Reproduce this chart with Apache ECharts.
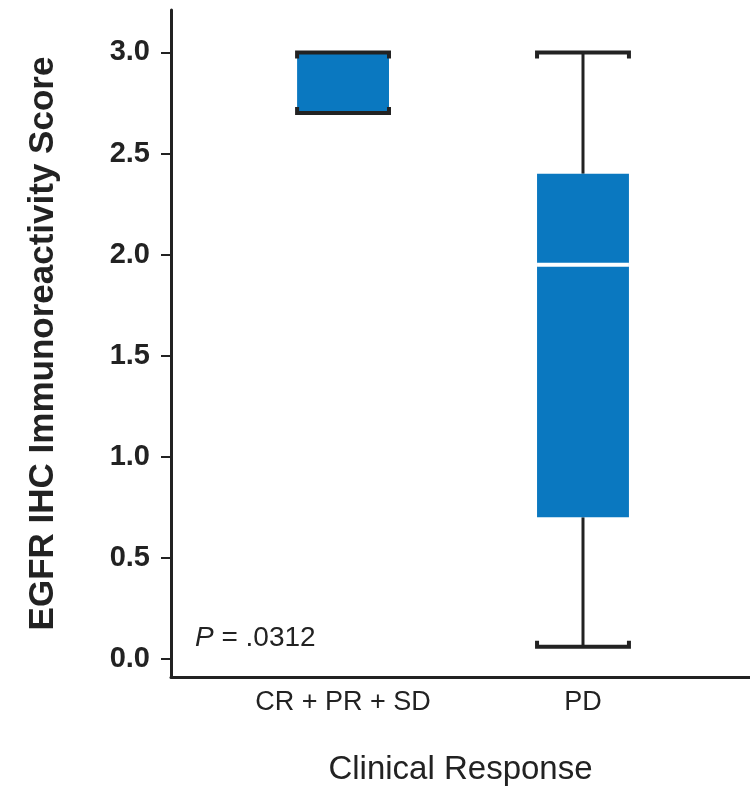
<!DOCTYPE html>
<html>
<head>
<meta charset="utf-8">
<script src="https://cdn.jsdelivr.net/npm/echarts@6/dist/echarts.min.js"></script>
<style>
html,body{margin:0;padding:0;background:#fff;}
#chart{width:750px;height:791px;}
</style>
</head>
<body>
<div id="chart"></div>
<script>
const categories = ['CR + PR + SD', 'PD'];
// [min, Q1, median, Q3, max]
const boxValues = [
  [2.7, 2.7, 3.0, 3.0, 3.0],
  [0.06, 0.7, 1.95, 2.4, 3.0]
];
const yTicks = [0, 0.5, 1.0, 1.5, 2.0, 2.5, 3.0];
const pText = '.0312';

const FONT = '"Liberation Sans", Arial, sans-serif';
const BLUE = '#0a78c0';
const INK = '#222222';
const BOX_W = 0.383;

const chart = echarts.init(document.getElementById('chart'), null, {renderer: 'canvas'});

const seriesData = boxValues.map((v, i) => [i].concat(v));

function renderItem(params, api) {
  const x = api.value(0);
  const vmin = api.value(1), q1 = api.value(2), med = api.value(3), q3 = api.value(4), vmax = api.value(5);
  const w = api.size([BOX_W, 0])[0];
  const pMin = api.coord([x, vmin]);
  const pQ1 = api.coord([x, q1]);
  const pMed = api.coord([x, med]);
  const pQ3 = api.coord([x, q3]);
  const pMax = api.coord([x, vmax]);
  const cx = pMin[0];
  const l = cx - w / 2, r = cx + w / 2;
  const children = [];
  children.push({type: 'line', shape: {x1: cx, y1: pMax[1], x2: cx, y2: pQ3[1]}, style: {stroke: INK, lineWidth: 3}});
  children.push({type: 'line', shape: {x1: cx, y1: pQ1[1], x2: cx, y2: pMin[1]}, style: {stroke: INK, lineWidth: 3}});
  children.push({type: 'rect', shape: {x: l, y: pQ3[1], width: w, height: pQ1[1] - pQ3[1]}, style: {fill: BLUE}});
  if (med < q3 && med > q1) {
    children.push({type: 'line', shape: {x1: l, y1: pMed[1], x2: r, y2: pMed[1]}, style: {stroke: '#ffffff', lineWidth: 4}});
  }
  children.push({type: 'polyline', shape: {points: [[l, pMax[1] + 6], [l, pMax[1]], [r, pMax[1]], [r, pMax[1] + 6]]}, style: {stroke: INK, lineWidth: 4, fill: null}});
  children.push({type: 'polyline', shape: {points: [[l, pMin[1] - 6], [l, pMin[1]], [r, pMin[1]], [r, pMin[1] - 6]]}, style: {stroke: INK, lineWidth: 4, fill: null}});
  return {type: 'group', children: children};
}

const option = {
  backgroundColor: '#ffffff',
  animation: false,
  grid: {left: 171, right: 0, top: 10, bottom: 113, containLabel: false},
  xAxis: {
    type: 'value',
    min: -0.717,
    max: 1.696,
    name: 'Clinical Response',
    nameLocation: 'middle',
    nameGap: 76,
    nameTextStyle: {fontFamily: FONT, fontSize: 33, color: INK},
    axisLine: {show: true, onZero: false, lineStyle: {color: INK, width: 3}},
    axisTick: {show: false},
    splitLine: {show: false},
    axisLabel: {
      customValues: [0, 1],
      formatter: v => categories[Math.round(v)],
      fontFamily: FONT,
      fontSize: 27,
      color: INK,
      margin: 12
    }
  },
  yAxis: {
    type: 'value',
    min: -0.09,
    max: 3.21,
    name: 'EGFR IHC Immunoreactivity Score',
    nameLocation: 'middle',
    nameGap: 110,
    nameTextStyle: {fontFamily: FONT, fontSize: 35, color: INK, fontWeight: 'bold'},
    axisLine: {show: true, onZero: false, lineStyle: {color: INK, width: 3}},
    axisTick: {show: true, customValues: yTicks, length: 10, lineStyle: {color: INK, width: 2}},
    splitLine: {show: false},
    axisLabel: {
      customValues: yTicks,
      formatter: v => v.toFixed(1),
      fontFamily: FONT,
      fontSize: 29,
      fontWeight: 'bold',
      color: INK,
      margin: 21
    }
  },
  graphic: [{
    type: 'text',
    left: 195,
    top: 624,
    style: {
      rich: {
        i: {fontFamily: FONT, fontStyle: 'italic', fontSize: 28, fill: INK},
        n: {fontFamily: FONT, fontSize: 28, fill: INK}
      },
      text: '{i|P}{n| = ' + pText + '}'
    }
  }],
  series: [{
    type: 'custom',
    renderItem: renderItem,
    data: seriesData,
    encode: {x: 0, y: [1, 2, 3, 4, 5]},
    clip: false
  }]
};
chart.setOption(option);
</script>
</body>
</html>
